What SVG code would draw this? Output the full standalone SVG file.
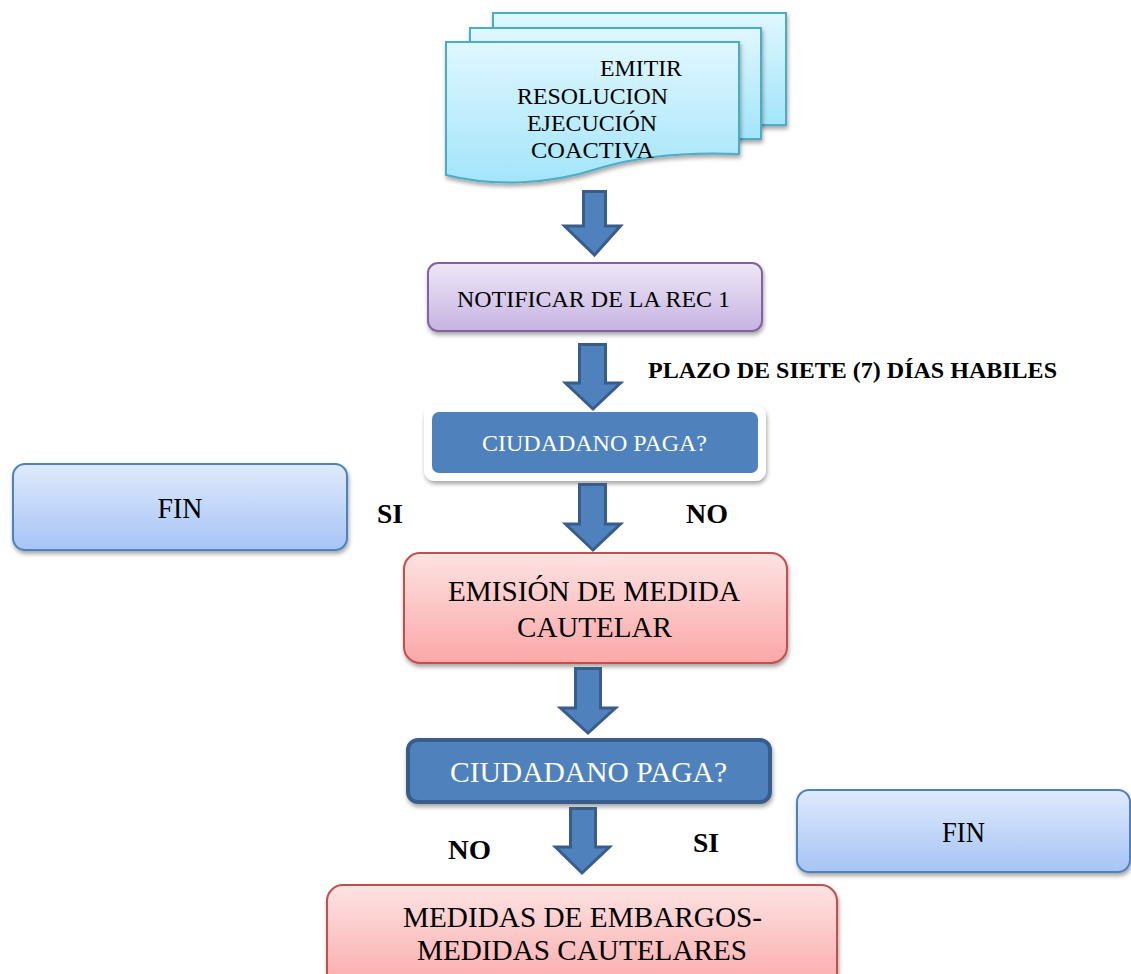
<svg xmlns="http://www.w3.org/2000/svg" width="1131" height="974" viewBox="0 0 1131 974">
  <defs>
    <linearGradient id="gCyan" x1="0" y1="0" x2="0" y2="1">
      <stop offset="0" stop-color="#e0f7fe"/>
      <stop offset="1" stop-color="#a3e5fa"/>
    </linearGradient>
    <linearGradient id="gLav" x1="0" y1="0" x2="0" y2="1">
      <stop offset="0" stop-color="#eee7f6"/>
      <stop offset="1" stop-color="#c6b3e2"/>
    </linearGradient>
    <linearGradient id="gBlue" x1="0" y1="0" x2="0" y2="1">
      <stop offset="0" stop-color="#dfeafc"/>
      <stop offset="1" stop-color="#a6c4f5"/>
    </linearGradient>
    <linearGradient id="gRed" x1="0" y1="0" x2="0" y2="1">
      <stop offset="0" stop-color="#fde3e3"/>
      <stop offset="1" stop-color="#fba7a7"/>
    </linearGradient>
    <filter id="sh" x="-10%" y="-10%" width="120%" height="130%">
      <feDropShadow dx="1" dy="3" stdDeviation="2" flood-color="#000" flood-opacity="0.35"/>
    </filter>
  </defs>
  <style>
    text { font-family: "Liberation Serif", "Times New Roman", serif; }
    .t { fill: #000; }
    .b { font-weight: bold; fill: #000; }
    .w { fill: #fff; }
    .doc { fill: url(#gCyan); stroke: #4bacc6; stroke-width: 2; }
    .arrow { fill: #4f81bd; stroke: #385d8a; stroke-width: 3; stroke-linejoin: miter; }
    .fin { fill: url(#gBlue); stroke: #4f81bd; stroke-width: 2; }
    .red { fill: url(#gRed); stroke: #c0504d; stroke-width: 2; }
  </style>
  <rect x="0" y="0" width="1131" height="974" fill="#fff"/>

  <g id="emitir">
    <rect class="doc" x="493" y="13" width="293" height="112" filter="url(#sh)"/>
    <rect class="doc" x="470" y="28" width="291" height="111" filter="url(#sh)"/>
    <path class="doc" d="M446,42 H739 V154 C690,152 640,156 600,168 C545,186 490,186 446,175 Z" filter="url(#sh)"/>
    <text class="t" font-size="24" x="600" y="76" textLength="82" lengthAdjust="spacingAndGlyphs">EMITIR</text>
    <text class="t" font-size="24" x="517" y="104" textLength="151" lengthAdjust="spacingAndGlyphs">RESOLUCION</text>
    <text class="t" font-size="24" x="527" y="131" textLength="130" lengthAdjust="spacingAndGlyphs">EJECUCIÓN</text>
    <text class="t" font-size="24" x="531" y="158" textLength="123" lengthAdjust="spacingAndGlyphs">COACTIVA</text>
  </g>

  <g id="notificar">
    <rect x="428" y="263" width="334" height="68" rx="10" fill="url(#gLav)" stroke="#8064a2" stroke-width="2" filter="url(#sh)"/>
    <text class="t" font-size="24" x="593.5" y="307" text-anchor="middle" textLength="273" lengthAdjust="spacingAndGlyphs">NOTIFICAR DE LA REC 1</text>
  </g>

  <g id="paga1">
    <rect x="424" y="405" width="342" height="76" rx="11" fill="#fff" filter="url(#sh)"/>
    <rect x="432" y="412" width="326" height="61" rx="7" fill="#4f81bd"/>
    <text class="w" font-size="24" x="594.5" y="451" text-anchor="middle" textLength="225" lengthAdjust="spacingAndGlyphs">CIUDADANO PAGA?</text>
  </g>

  <g id="fin1">
    <rect class="fin" x="13" y="464" width="334" height="86" rx="12" filter="url(#sh)"/>
    <text class="t" font-size="29" x="180" y="518" text-anchor="middle" textLength="45" lengthAdjust="spacingAndGlyphs">FIN</text>
  </g>

  <g id="emision">
    <rect class="red" x="404" y="553" width="383" height="110" rx="16" filter="url(#sh)"/>
    <text class="t" font-size="29" x="594" y="601" text-anchor="middle" textLength="292" lengthAdjust="spacingAndGlyphs">EMISIÓN DE MEDIDA</text>
    <text class="t" font-size="29" x="594.5" y="637" text-anchor="middle" textLength="155" lengthAdjust="spacingAndGlyphs">CAUTELAR</text>
  </g>

  <g id="paga2">
    <rect x="408" y="740" width="362" height="62" rx="10" fill="#4f81bd" stroke="#385d8a" stroke-width="4" filter="url(#sh)"/>
    <text class="w" font-size="29" x="588.5" y="782" text-anchor="middle" textLength="277" lengthAdjust="spacingAndGlyphs">CIUDADANO PAGA?</text>
  </g>

  <g id="fin2">
    <rect class="fin" x="797" y="790" width="333" height="82" rx="12" filter="url(#sh)"/>
    <text class="t" font-size="29" x="963.5" y="842" text-anchor="middle" textLength="43" lengthAdjust="spacingAndGlyphs">FIN</text>
  </g>

  <g id="medidas">
    <rect class="red" x="327" y="885" width="510" height="110" rx="16" filter="url(#sh)"/>
    <text class="t" font-size="29" x="582.5" y="927" text-anchor="middle" textLength="359" lengthAdjust="spacingAndGlyphs">MEDIDAS DE EMBARGOS-</text>
    <text class="t" font-size="29" x="582" y="960" text-anchor="middle" textLength="330" lengthAdjust="spacingAndGlyphs">MEDIDAS CAUTELARES</text>
  </g>

  <g id="connectors">
    <polygon class="arrow" points="583.5,191.5 605.5,191.5 605.5,226 620.5,226 594.5,255 564.5,226 583.5,226"/>
    <polygon class="arrow" points="579.5,344.5 605.5,344.5 605.5,383 620.5,383 593,409 565.5,383 579.5,383"/>
    <polygon class="arrow" points="579.5,484.5 605.5,484.5 605.5,524 620.5,524 593,550 565.5,524 579.5,524"/>
    <polygon class="arrow" points="575.5,668.5 600.5,668.5 600.5,708 615.5,708 588,733 560.5,708 575.5,708"/>
    <polygon class="arrow" points="570.5,808.5 595.5,808.5 595.5,847 609.5,847 582,873 555.5,847 570.5,847"/>
  </g>

  <g id="labels">
    <text class="b" font-size="24" x="648" y="378" textLength="409" lengthAdjust="spacingAndGlyphs">PLAZO DE SIETE (7) DÍAS HABILES</text>
    <text class="b" font-size="28" x="377" y="523" textLength="26" lengthAdjust="spacingAndGlyphs">SI</text>
    <text class="b" font-size="28" x="686" y="523" textLength="42" lengthAdjust="spacingAndGlyphs">NO</text>
    <text class="b" font-size="28" x="448" y="859" textLength="43" lengthAdjust="spacingAndGlyphs">NO</text>
    <text class="b" font-size="28" x="693" y="852" textLength="26" lengthAdjust="spacingAndGlyphs">SI</text>
  </g>
</svg>
